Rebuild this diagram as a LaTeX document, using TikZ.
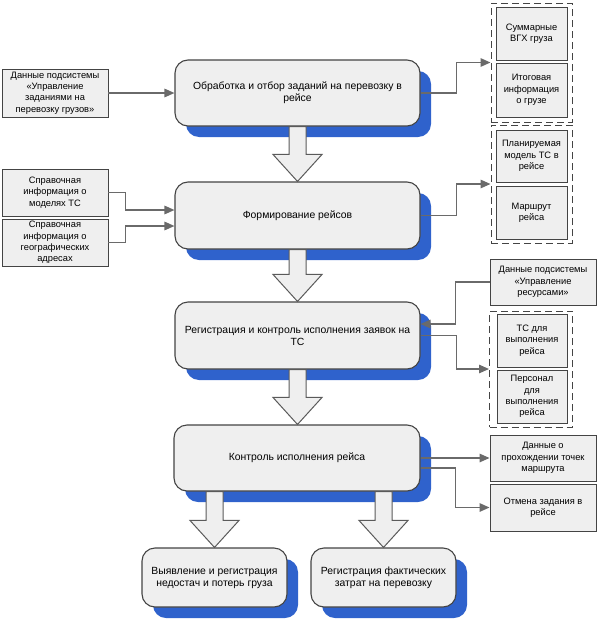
\documentclass[tikz,border=0pt]{standalone}
\usepackage{fontspec}
\setmainfont{Liberation Sans}
\usetikzlibrary{arrows.meta,shadows,calc}
\definecolor{boxfill}{HTML}{EFEFEF}
\definecolor{boxline}{HTML}{444444}
\definecolor{connline}{HTML}{6A6A6A}
\definecolor{arrline}{HTML}{5A5A5A}
\definecolor{shadowblue}{HTML}{2F62CC}
\newcommand{\blockarrow}[2]{\draw[blkarrow] let \p1=(#1), \p2=(#2) in (\x1-8.5pt,\y1) -- (\x1-8.5pt,\y2+27pt) -- (\x1-24.5pt,\y2+27pt) -- (\x1,\y2) -- (\x1+24.5pt,\y2+27pt) -- (\x1+8.5pt,\y2+27pt) -- (\x1+8.5pt,\y1) -- cycle;}
\begin{document}
\begin{tikzpicture}[x=1pt,y=-1pt,
  mainbox/.style={draw=boxline, line width=1.1pt, fill=boxfill, rounded corners=13pt, align=center,
    font=\fontsize{10.4}{12}\selectfont, inner sep=0pt,
    drop shadow={shadow xshift=11pt, shadow yshift=-11pt, opacity=1, fill=shadowblue}},
  smallbox/.style={draw=boxline, line width=0.95pt, fill=boxfill, align=center,
    font=\fontsize{9.3}{11.3}\selectfont, inner sep=0pt},
  grp/.style={draw=boxline, line width=1pt, dash pattern=on 7pt off 4pt, inner sep=0pt},
  conn/.style={draw=connline, line width=1.5pt, -{Triangle[length=10pt,width=8.5pt]}},
  blkarrow/.style={draw=arrline, fill=boxfill, line width=1pt}]
\useasboundingbox (0,0) rectangle (600,621);

% main boxes
\node[mainbox, minimum width=245pt, minimum height=66pt] (b1) at (297.5,93) {Обработка и отбор заданий на перевозку в\\рейсе};
\node[mainbox, minimum width=245pt, minimum height=67pt] (b2) at (297.5,215.5) {Формирование рейсов};
\node[mainbox, minimum width=245pt, minimum height=67pt] (b3) at (297.5,335.5) {Регистрация и контроль исполнения заявок на\\ТС};
\node[mainbox, minimum width=246pt, minimum height=66pt] (b4) at (297,458) {Контроль исполнения рейса};
\node[mainbox, minimum width=145pt, minimum height=59pt] (b5) at (214.5,577.5) {Выявление и регистрация\\недостач и потерь груза};
\node[mainbox, minimum width=145pt, minimum height=59pt] (b6) at (383.5,577.5) {Регистрация фактических\\затрат на перевозку};

% left boxes
\node[smallbox, minimum width=106pt, minimum height=48pt] (l1) at (55,93) {Данные подсистемы\\«Управление\\заданиями на\\перевозку грузов»};
\node[smallbox, minimum width=106pt, minimum height=47pt] (l2) at (55,192.5) {Справочная\\информация о\\моделях ТС};
\node[smallbox, minimum width=106pt, minimum height=47pt] (l3) at (55,242.5) {Справочная\\информация о\\географических\\адресах};

% right groups
\node[grp, minimum width=81pt, minimum height=119pt] (g1) at (531.5,62.5) {};
\node[smallbox, minimum width=71pt, minimum height=53pt] (r1a) at (531.5,33.5) {Суммарные\\ВГХ груза};
\node[smallbox, minimum width=71pt, minimum height=54pt] (r1b) at (531.5,90) {Итоговая\\информация\\о грузе};
\node[grp, minimum width=81pt, minimum height=118pt] (g2) at (531.5,184) {};
\node[smallbox, minimum width=71pt, minimum height=52pt] (r2a) at (531.5,156) {Планируемая\\модель ТС в\\рейсе};
\node[smallbox, minimum width=71pt, minimum height=53pt] (r2b) at (531.5,212.5) {Маршрут\\рейса};
\node[smallbox, minimum width=106pt, minimum height=46pt] (r3) at (543,282) {Данные подсистемы\\«Управление\\ресурсами»};
\node[grp, minimum width=83pt, minimum height=116pt] (g3) at (531,369) {};
\node[smallbox, minimum width=70pt, minimum height=53pt] (r4a) at (532,340.5) {ТС для\\выполнения\\рейса};
\node[smallbox, minimum width=70pt, minimum height=53pt] (r4b) at (532,396.5) {Персонал\\для\\выполнения\\рейса};
\node[smallbox, minimum width=106pt, minimum height=46pt] (r5) at (543,458) {Данные о\\прохождении точек\\маршрута};
\node[smallbox, minimum width=106pt, minimum height=47pt] (r6) at (543,507.5) {Отмена задания в\\рейсе};

% block arrows
\blockarrow{b1.south}{b2.north}
\blockarrow{b2.south}{b3.north}
\blockarrow{b3.south}{b4.north}
\blockarrow{b5.north |- b4.south}{b5.north}
\blockarrow{b6.north |- b4.south}{b6.north}

% connectors
\draw[conn] (l1.east) -- (b1.west);
\draw[conn] (l2.east) -- ++(17,0) |- ([yshift=5.5pt]b2.west);
\draw[conn] (l3.east) -- ++(17,0) |- ([yshift=-10.5pt]b2.west);
\draw[conn] (b1.east) -- ++(36,0) |- (g1.west);
\draw[conn] (b2.east) -- ++(36,0) |- (g2.west);
\draw[conn] (r3.west) -- ++(-34,0) |- ([yshift=11.5pt]b3.east);
\draw[conn] (b3.east) -- ++(36,0) |- (g3.west);
\draw[conn] (b4.east) -- (r5.west);
\draw[conn] ([yshift=-10pt]b4.east) -- ++(35,0) |- (r6.west);
\end{tikzpicture}
\end{document}
